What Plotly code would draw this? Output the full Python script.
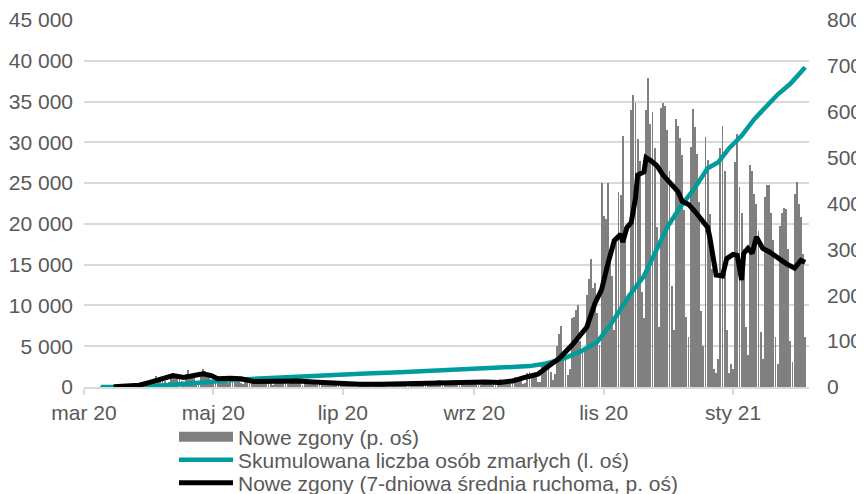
import pandas as pd
import plotly.graph_objects as go

# daily new deaths (right axis), 2020-03-04 .. 2021-02-07, rows = weeks Mon..Sun
new_deaths = [
    0, 0, 0, 0, 0,                      # Mar 4-8 (Wed-Sun)
    0, 0, 0, 1, 1, 1, 0,
    0, 2, 1, 1, 2, 3, 1,
    2, 4, 3, 4, 5, 2, 4,
    4, 3, 6, 10, 14, 15, 15,
    15, 25, 20, 18, 15, 13, 9,
    11, 26, 25, 20, 24, 22, 14,
    12, 28, 38, 20, 24, 20, 14,
    10, 32, 40, 35, 26, 21, 14,
    9, 19, 25, 22, 20, 15, 11,
    8, 22, 25, 20, 21, 16, 9,
    7, 18, 20, 17, 14, 13, 9,
    6, 15, 18, 16, 14, 13, 10,
    5, 14, 16, 15, 13, 12, 9,
    6, 17, 18, 14, 14, 13, 9,
    5, 15, 17, 14, 13, 11, 8,
    4, 13, 14, 12, 11, 10, 6,
    3, 11, 12, 9, 8, 8, 5,
    2, 8, 9, 7, 6, 6, 4,
    2, 8, 8, 7, 6, 6, 4,
    3, 7, 9, 8, 6, 5, 3,
    3, 9, 10, 9, 8, 7, 4,
    3, 12, 13, 11, 10, 9, 5,
    4, 13, 14, 12, 11, 10, 6,
    4, 15, 16, 14, 12, 11, 6,
    5, 15, 15, 14, 12, 10, 6,
    4, 13, 14, 13, 11, 10, 5,
    4, 15, 16, 14, 12, 11, 5,
    5, 16, 17, 15, 14, 12, 6,
    6, 20, 22, 19, 17, 15, 7,
    8, 30, 32, 27, 28, 22, 10,
    12, 45, 50, 42, 48, 33, 16,
    28, 90, 116, 132, 76, 60, 27,
    40, 150, 152, 168, 179, 101, 85,
    80, 200, 236, 280, 215, 227, 162,
    92, 445, 373, 367, 445, 275, 243,
    125, 330, 425, 419, 548, 349, 193,
    199, 603, 637, 620, 541, 492, 207,
    150, 603, 674, 574, 599, 521, 349,
    130, 609, 620, 612, 561, 470, 220,
    125, 584, 569, 543, 506, 386, 153,
    109, 523, 605, 566, 507, 404, 165,
    90, 545, 494, 377, 258, 40, 30,
    60, 522, 569, 470, 125, 30, 50,
    40, 491, 552, 437, 380, 300, 130,
    70, 483, 470, 420, 400, 340, 120,
    60, 415, 440, 440, 380, 320, 110,
    50, 350, 380, 390, 387, 300, 100,
    55, 420, 447, 400, 370, 290, 110,
]
days = pd.date_range("2020-03-04", periods=len(new_deaths), freq="D")

# cumulative deaths (left axis)
cum_dates = [
    "2020-03-12", "2020-03-31", "2020-04-15", "2020-04-30", "2020-05-15", "2020-05-31",
    "2020-06-15", "2020-06-30", "2020-07-15", "2020-07-31", "2020-08-15", "2020-08-31",
    "2020-09-15", "2020-09-30", "2020-10-08", "2020-10-16", "2020-10-24", "2020-11-01",
    "2020-11-08", "2020-11-16", "2020-11-23", "2020-11-29", "2020-12-04", "2020-12-10",
    "2020-12-17", "2020-12-23", "2020-12-28", "2021-01-02", "2021-01-08", "2021-01-14",
    "2021-01-20", "2021-01-25", "2021-01-31", "2021-02-07",
]
cum_deaths = [
    1, 33, 290, 650, 900, 1100,
    1320, 1500, 1650, 1800, 1980, 2180,
    2360, 2560, 2890, 3490, 4330, 5540,
    7940, 11190, 13600, 16720, 19610, 22020,
    24430, 26830, 27550, 29240, 30800, 32850,
    34410, 35860, 37180, 39220,
]

# 7-day moving average of new deaths (right axis)
avg_dates = [
    "2020-03-18", "2020-03-25", "2020-03-30", "2020-04-04", "2020-04-09", "2020-04-15",
    "2020-04-20", "2020-04-25", "2020-04-29", "2020-05-03", "2020-05-06", "2020-05-12",
    "2020-05-17", "2020-05-23", "2020-05-30", "2020-06-06", "2020-06-13", "2020-06-20",
    "2020-06-27", "2020-07-04", "2020-07-12", "2020-07-22", "2020-07-31", "2020-08-08",
    "2020-08-16", "2020-08-24", "2020-09-01", "2020-09-09", "2020-09-16", "2020-09-22",
    "2020-09-27", "2020-10-04", "2020-10-10", "2020-10-14", "2020-10-20", "2020-10-25",
    "2020-10-27", "2020-10-31", "2020-11-03", "2020-11-06", "2020-11-09", "2020-11-12",
    "2020-11-13", "2020-11-15", "2020-11-17", "2020-11-19", "2020-11-20", "2020-11-23",
    "2020-11-24", "2020-11-26", "2020-11-29", "2020-12-02", "2020-12-05", "2020-12-09",
    "2020-12-11", "2020-12-14", "2020-12-17", "2020-12-19", "2020-12-23", "2020-12-24",
    "2020-12-26", "2020-12-27", "2020-12-30", "2021-01-01", "2021-01-04", "2021-01-06",
    "2021-01-08", "2021-01-09", "2021-01-11", "2021-01-13", "2021-01-15", "2021-01-18",
    "2021-01-21", "2021-01-24", "2021-01-29", "2021-02-02", "2021-02-05", "2021-02-07",
]
avg_deaths = [
    0.5, 2, 4, 10, 17, 25,
    21, 24, 29, 25, 18, 19,
    18, 12, 13, 12, 13, 11,
    9, 7, 6, 6, 7, 9,
    10, 11, 10, 11, 10, 13,
    20, 28, 49, 62, 91, 120,
    130, 184, 212, 269, 319, 333,
    316, 348, 359, 412, 462, 469,
    500, 494, 483, 462, 448, 426,
    405, 398, 383, 370, 348, 327,
    276, 244, 242, 280, 289, 287,
    233, 291, 302, 291, 327, 302,
    295, 284, 269, 259, 276, 272,
]

tick_dates = ["2020-03-04", "2020-05-04", "2020-07-04", "2020-09-04", "2020-11-04", "2021-01-04"]
tick_labels = ["mar 20", "maj 20", "lip 20", "wrz 20", "lis 20", "sty 21"]

font = dict(family="Liberation Sans, Arial, sans-serif", size=21, color="#595959")
BAR_GREY = "#808080"
TEAL = "#009b9b"

# the page body adds an 8px margin, so the figure is 8px smaller on each side
W, H = 856, 486

fig = go.Figure()

fig.add_trace(go.Bar(
    x=days, y=new_deaths, name="Nowe zgony (p. oś)",
    marker=dict(color=BAR_GREY, line=dict(width=0)),
    width=0.42 * 86400000, yaxis="y", showlegend=False,
))
# legend-only entry so the bar swatch is a wide grey block, as in the original
fig.add_trace(go.Scatter(
    x=[None], y=[None], name="Nowe zgony (p. oś)", mode="lines",
    line=dict(color=BAR_GREY, width=14), yaxis="y", legend="legend",
))
fig.add_trace(go.Scatter(
    x=pd.to_datetime(cum_dates), y=cum_deaths, name="Skumulowana liczba osób zmarłych (l. oś)",
    mode="lines", line=dict(color=TEAL, width=4.5), yaxis="y2", legend="legend2",
))
fig.add_trace(go.Scatter(
    x=pd.to_datetime(avg_dates), y=avg_deaths, name="Nowe zgony (7-dniowa średnia ruchoma, p. oś)",
    mode="lines", line=dict(color="#000000", width=5), yaxis="y3", legend="legend3",
))

legend_common = dict(
    xref="container", yref="container", x=166 / W, xanchor="left", yanchor="middle",
    font=font, itemwidth=54, bgcolor="rgba(0,0,0,0)", borderwidth=0,
)

fig.update_layout(
    width=W, height=H,
    margin=dict(l=76, r=55, t=12, b=107, autoexpand=False),
    paper_bgcolor="white", plot_bgcolor="white",
    font=font,
    separators=", ",
    showlegend=True,
    bargap=0,
    xaxis=dict(
        type="date",
        range=["2020-03-04", "2021-02-08 19:00"],
        tickvals=pd.to_datetime(tick_dates), ticktext=tick_labels, tickangle=0,
        showgrid=False, showline=True, linecolor="#d9d9d9", linewidth=2,
        ticks="outside", ticklen=6, tickcolor="#d9d9d9", tickwidth=2,
        zeroline=False, automargin=False,
    ),
    yaxis=dict(
        side="right", range=[0, 800], dtick=100,
        showgrid=False, zeroline=False, showline=False,
        ticklabelstandoff=17, automargin=False, ticklabeloverflow="allow",
    ),
    yaxis2=dict(
        side="left", overlaying="y", range=[0, 45000], dtick=5000,
        tickformat=",d", showgrid=True, gridcolor="#d9d9d9", gridwidth=2,
        zeroline=False, showline=False, ticklabelstandoff=10, automargin=False,
        ticklabeloverflow="allow",
    ),
    yaxis3=dict(
        overlaying="y", range=[0, 800], visible=False,
    ),
    legend=dict(y=(H - 429) / H, **legend_common),
    legend2=dict(y=(H - 452) / H, **legend_common),
    legend3=dict(y=(H - 475) / H, **legend_common),
)

fig.write_html("out.html")
